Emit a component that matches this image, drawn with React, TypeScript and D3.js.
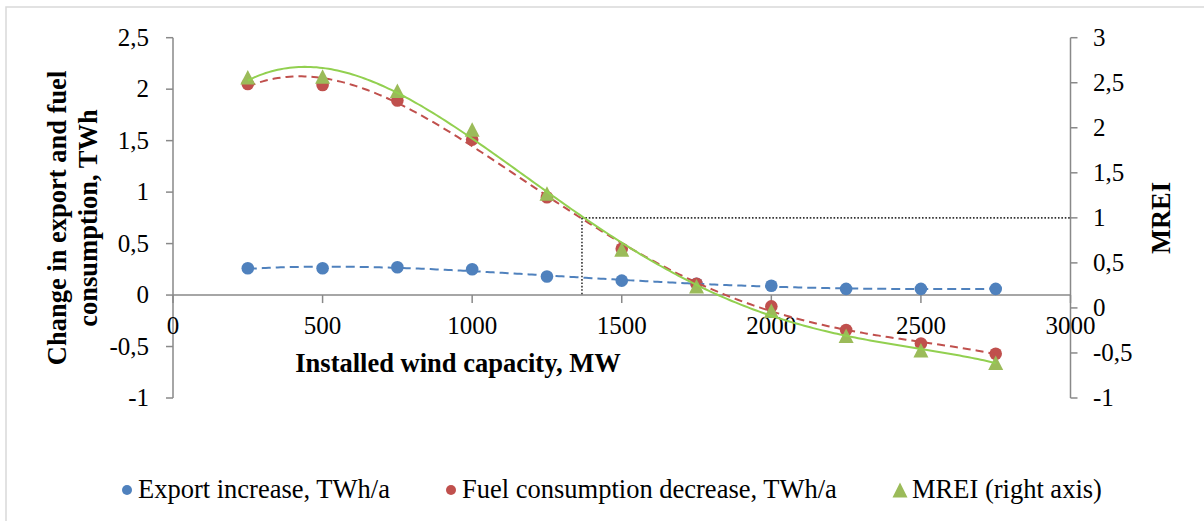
import React from "react";
import * as d3 from "d3";

const capacities = [250, 500, 750, 1000, 1250, 1500, 1750, 2000, 2250, 2500, 2750];
const exportIncrease = [0.26, 0.26, 0.27, 0.25, 0.18, 0.14, 0.11, 0.09, 0.06, 0.06, 0.06];
const fuelDecrease = [2.05, 2.04, 1.89, 1.51, 0.95, 0.45, 0.11, -0.11, -0.34, -0.47, -0.57];
const mrei = [2.56, 2.57, 2.41, 1.98, 1.27, 0.65, 0.24, -0.03, -0.31, -0.47, -0.61];

const xTicks = [0, 500, 1000, 1500, 2000, 2500, 3000];
const leftTicks = [-1, -0.5, 0, 0.5, 1, 1.5, 2, 2.5];
const rightTicks = [-1, -0.5, 0, 0.5, 1, 1.5, 2, 2.5, 3];

const thresholdCapacity = 1367;
const thresholdMrei = 1;

const legendLabels = ["Export increase, TWh/a", "Fuel consumption decrease, TWh/a", "MREI (right axis)"];

const BLUE = "#4F81BD";
const RED = "#C0504D";
const GREEN = "#9BBB59";
const GREEN_LINE = "#92D050";
const AXIS = "#898989";
const FONT = "'Liberation Serif', 'Times New Roman', serif";

// least-squares polynomial (Excel-style trendline)
function polyFit(xs: number[], ys: number[], order: number) {
  const n = order + 1;
  const sx = xs.map((v) => v / 1000);
  const A: number[][] = Array.from({ length: n }, () => new Array(n + 1).fill(0));
  for (let r = 0; r < n; r++) {
    for (let c = 0; c < n; c++) {
      A[r][c] = d3.sum(sx, (v) => Math.pow(v, r + c));
    }
    A[r][n] = d3.sum(sx, (v, i) => ys[i] * Math.pow(v, r));
  }
  for (let i = 0; i < n; i++) {
    let max = i;
    for (let k = i + 1; k < n; k++) if (Math.abs(A[k][i]) > Math.abs(A[max][i])) max = k;
    [A[i], A[max]] = [A[max], A[i]];
    for (let k = i + 1; k < n; k++) {
      const f = A[k][i] / A[i][i];
      for (let j = i; j <= n; j++) A[k][j] -= f * A[i][j];
    }
  }
  const coef = new Array(n).fill(0);
  for (let i = n - 1; i >= 0; i--) {
    let s = A[i][n];
    for (let j = i + 1; j < n; j++) s -= A[i][j] * coef[j];
    coef[i] = s / A[i][i];
  }
  return (x: number) => coef.reduce((acc, c, i) => acc + c * Math.pow(x / 1000, i), 0);
}

const fmt = (v: number) => String(v).replace(".", ",");

export default function App() {
  const W = 1204;
  const H = 521;
  const x = d3.scaleLinear().domain([0, 3000]).range([173, 1070.5]);
  const yL = d3.scaleLinear().domain([-1, 2.5]).range([398, 37.7]);
  const yR = d3.scaleLinear().domain([-1, 3]).range([398, 37.7]);

  const samples = d3.range(250, 2751, 10);
  const fitBlue = polyFit(capacities, exportIncrease, 4);
  const fitRed = polyFit(capacities, fuelDecrease, 4);
  const fitGreen = polyFit(capacities, mrei, 4);

  const lineL = d3.line<number>().x((d) => x(d)).y((d) => yL(fitBlue(d)));
  const lineRed = d3.line<number>().x((d) => x(d)).y((d) => yL(fitRed(d)));
  const lineGreen = d3.line<number>().x((d) => x(d)).y((d) => yR(fitGreen(d)));

  const tri = (cx: number, cy: number, w = 15, h = 14.5) =>
    `M${cx},${cy - h / 2}L${cx + w / 2},${cy + h / 2}L${cx - w / 2},${cy + h / 2}Z`;

  const x0 = x(0);
  const x1 = x(3000);
  const yZero = yL(0);

  return (
    <div style={{ position: "fixed", left: 0, top: 0 }}>
      <svg width={W} height={H} style={{ display: "block", fontFamily: FONT }}>
        <rect x={0} y={0} width={W} height={H} fill="#fff" />
        <rect x={6} y={7} width={W + 10} height={H + 10} fill="none" stroke="#d9d9d9" strokeWidth={1.5} />

        {/* left axis */}
        <line x1={x0} x2={x0} y1={yL(-1)} y2={yL(2.5)} stroke={AXIS} strokeWidth={1.5} />
        {leftTicks.map((t) => (
          <g key={"l" + t}>
            <line x1={x0 - 7} x2={x0} y1={yL(t)} y2={yL(t)} stroke={AXIS} strokeWidth={1.5} />
            <text x={149} y={yL(t)} dy="0.33em" textAnchor="end" fontSize={25} fill="#000">
              {fmt(t)}
            </text>
          </g>
        ))}

        {/* right axis */}
        <line x1={x1} x2={x1} y1={yR(-1)} y2={yR(3)} stroke={AXIS} strokeWidth={1.5} />
        {rightTicks.map((t) => (
          <g key={"r" + t}>
            <line x1={x1} x2={x1 + 7} y1={yR(t)} y2={yR(t)} stroke={AXIS} strokeWidth={1.5} />
            <text x={1093} y={yR(t)} dy="0.33em" textAnchor="start" fontSize={25} fill="#000">
              {fmt(t)}
            </text>
          </g>
        ))}

        {/* x axis */}
        <line x1={x0} x2={x1} y1={yZero} y2={yZero} stroke={AXIS} strokeWidth={1.5} />
        {xTicks.map((t) => (
          <g key={"x" + t}>
            <line x1={x(t)} x2={x(t)} y1={yZero} y2={yZero + 8} stroke={AXIS} strokeWidth={1.5} />
            <text x={x(t)} y={334} textAnchor="middle" fontSize={25} fill="#000">
              {t}
            </text>
          </g>
        ))}

        {/* axis titles */}
        <text x={458} y={372} textAnchor="middle" fontSize={26.5} fontWeight="bold">
          Installed wind capacity, MW
        </text>
        <text transform={`translate(66,218) rotate(-90)`} textAnchor="middle" fontSize={26.5} fontWeight="bold">
          Change in export and fuel
        </text>
        <text transform={`translate(97,218) rotate(-90)`} textAnchor="middle" fontSize={26.5} fontWeight="bold">
          consumption, TWh
        </text>
        <text transform={`translate(1170,218) rotate(-90)`} textAnchor="middle" fontSize={26.5} fontWeight="bold">
          MREI
        </text>

        {/* threshold dotted lines */}
        <line
          x1={x(thresholdCapacity)}
          x2={x(thresholdCapacity)}
          y1={yR(thresholdMrei)}
          y2={yZero}
          stroke="#333"
          strokeWidth={1.6}
          strokeDasharray="1.6,1.8"
        />
        <line
          x1={x(thresholdCapacity)}
          x2={x1}
          y1={yR(thresholdMrei)}
          y2={yR(thresholdMrei)}
          stroke="#333"
          strokeWidth={1.6}
          strokeDasharray="1.6,1.8"
        />

        {/* markers: blue, red */}
        {capacities.map((c, i) => (
          <circle key={"b" + c} cx={x(c)} cy={yL(exportIncrease[i])} r={6.3} fill={BLUE} />
        ))}
        {capacities.map((c, i) => (
          <circle key={"rd" + c} cx={x(c)} cy={yL(fuelDecrease[i])} r={6.3} fill={RED} />
        ))}

        {/* trendlines */}
        <path d={lineL(samples) || ""} fill="none" stroke={BLUE} strokeWidth={2} strokeDasharray="9,5" />
        <path d={lineRed(samples) || ""} fill="none" stroke={RED} strokeWidth={2} strokeDasharray="8,5" />

        {capacities.map((c, i) => (
          <path key={"g" + c} d={tri(x(c), yR(mrei[i]))} fill={GREEN} />
        ))}
        <path d={lineGreen(samples) || ""} fill="none" stroke={GREEN_LINE} strokeWidth={2} />

        {/* legend */}
        <circle cx={127} cy={490} r={5} fill={BLUE} />
        <text x={138} y={497.5} fontSize={26.5} fill="#000">
          {legendLabels[0]}
        </text>
        <circle cx={451} cy={490} r={5} fill={RED} />
        <text x={462} y={497.5} fontSize={26.5} fill="#000">
          {legendLabels[1]}
        </text>
        <path d={tri(900, 490, 15, 15)} fill={GREEN} />
        <text x={912} y={497.5} fontSize={26.5} fill="#000">
          {legendLabels[2]}
        </text>
      </svg>
    </div>
  );
}
